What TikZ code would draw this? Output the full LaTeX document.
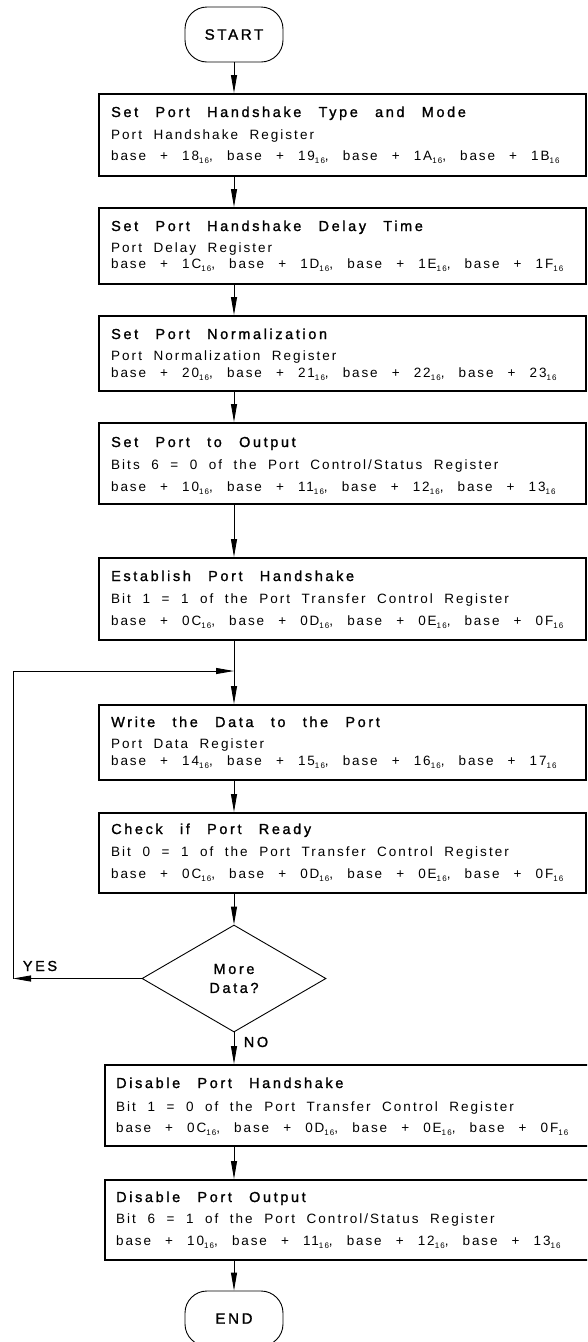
\documentclass[tikz,border=0pt]{standalone}
\usepackage{fontspec}
\setmainfont{Liberation Sans}[LetterSpace=15,WordSpace=2]
\newfontfamily\titlefont{Liberation Sans}[LetterSpace=18,WordSpace=2.6,FakeBold=1.3]
\newfontfamily\addrfont{Liberation Sans}[LetterSpace=14,WordSpace=2.5]
\usetikzlibrary{shapes.geometric,arrows.meta}
\newcommand\hsub[1]{\raisebox{-0.45ex}{\fontsize{8}{9}\selectfont #1}}
\tikzset{
  every picture/.style={x=1pt,y=-1pt},
  flowbox/.style={draw,line width=1.5pt,minimum width=487pt,inner sep=0pt,anchor=north west},
  lowbox/.style={flowbox,minimum width=500pt},
  txt/.style={anchor=base west,inner sep=0pt,font=\fontsize{13.5}{15}\selectfont},
  ttl/.style={txt,font=\fontsize{14.5}{16}\selectfont\titlefont},
  addr/.style={txt,font=\fontsize{13.5}{15}\selectfont\addrfont},
  term/.style={draw,line width=0.9pt,rounded corners=22pt,minimum width=98pt,minimum height=55pt,inner sep=0pt,font=\fontsize{15}{17}\selectfont\titlefont},
  dec/.style={draw,diamond,line width=0.9pt,minimum width=184pt,minimum height=107pt,inner sep=0pt,align=center,font=\fontsize{14.5}{19}\selectfont\titlefont},
  lbl/.style={inner sep=0pt,font=\fontsize{14.5}{16}\selectfont\titlefont},
  conn/.style={line width=0.9pt,-{Triangle[length=18pt,width=6pt]}}
}
\begin{document}
\begin{tikzpicture}
\useasboundingbox (0,0) rectangle (587,1342);
\clip (0,0) rectangle (587,1342);

\node[term] (start) at (234,34.5) {START};

% Box 1
\node[flowbox,minimum height=82pt] (b1) at (98,93) {};
\node[ttl] (b1a) at (111,117) {Set Port Handshake Type and Mode};
\node[txt] (b1b) at (111,139) {Port Handshake Register};
\node[addr] (b1c) at (111,160) {base + 18\hsub{16}, base + 19\hsub{16}, base + 1A\hsub{16}, base + 1B\hsub{16}};

% Box 2
\node[flowbox,minimum height=76pt] (b2) at (98,207) {};
\node[ttl] (b2a) at (111,231) {Set Port Handshake Delay Time};
\node[txt] (b2b) at (111,252) {Port Delay Register};
\node[addr] (b2c) at (111,268) {base + 1C\hsub{16}, base + 1D\hsub{16}, base + 1E\hsub{16}, base + 1F\hsub{16}};

% Box 3
\node[flowbox,minimum height=75pt] (b3) at (98,315) {};
\node[ttl] (b3a) at (111,339) {Set Port Normalization};
\node[txt] (b3b) at (111,360) {Port Normalization Register};
\node[addr] (b3c) at (111,377) {base + 20\hsub{16}, base + 21\hsub{16}, base + 22\hsub{16}, base + 23\hsub{16}};

% Box 4
\node[flowbox,minimum height=81pt] (b4) at (98,422) {};
\node[ttl] (b4a) at (111,447) {Set Port to Output};
\node[txt] (b4b) at (111,469) {Bits 6 = 0 of the Port Control/Status Register};
\node[addr] (b4c) at (111,491) {base + 10\hsub{16}, base + 11\hsub{16}, base + 12\hsub{16}, base + 13\hsub{16}};

% Box 5
\node[flowbox,minimum height=82pt] (b5) at (98,557) {};
\node[ttl] (b5a) at (111,581) {Establish Port Handshake};
\node[txt] (b5b) at (111,603) {Bit 1 = 1 of the Port Transfer Control Register};
\node[addr] (b5c) at (111,625) {base + 0C\hsub{16}, base + 0D\hsub{16}, base + 0E\hsub{16}, base + 0F\hsub{16}};

\coordinate (join) at (234,671);

% Box 6
\node[flowbox,minimum height=75pt] (b6) at (98,704) {};
\node[ttl] (b6a) at (111,727) {Write the Data to the Port};
\node[txt] (b6b) at (111,748) {Port Data Register};
\node[addr] (b6c) at (111,765) {base + 14\hsub{16}, base + 15\hsub{16}, base + 16\hsub{16}, base + 17\hsub{16}};

% Box 7
\node[flowbox,minimum height=80pt] (b7) at (98,812) {};
\node[ttl] (b7a) at (111,834) {Check if Port Ready};
\node[txt] (b7b) at (111,856) {Bit 0 = 1 of the Port Transfer Control Register};
\node[addr] (b7c) at (111,878) {base + 0C\hsub{16}, base + 0D\hsub{16}, base + 0E\hsub{16}, base + 0F\hsub{16}};

% Decision
\node[dec] (dec) at (234,978.5) {More\\Data?};
\coordinate (corner) at (13,978.5);
\node[lbl] (yes) at (40,966) {YES};
\node[lbl] (no) at (256,1042) {NO};

% Box 8
\node[lowbox,minimum height=81pt] (b8) at (104,1064) {};
\node[ttl] (b8a) at (116,1088) {Disable Port Handshake};
\node[txt] (b8b) at (116,1111) {Bit 1 = 0 of the Port Transfer Control Register};
\node[addr] (b8c) at (116,1132) {base + 0C\hsub{16}, base + 0D\hsub{16}, base + 0E\hsub{16}, base + 0F\hsub{16}};

% Box 9
\node[lowbox,minimum height=80pt] (b9) at (104,1179) {};
\node[ttl] (b9a) at (116,1202) {Disable Port Output};
\node[txt] (b9b) at (116,1223) {Bit 6 = 1 of the Port Control/Status Register};
\node[addr] (b9c) at (116,1245) {base + 10\hsub{16}, base + 11\hsub{16}, base + 12\hsub{16}, base + 13\hsub{16}};

\node[term] (end) at (234,1318.5) {END};

% Connectors
\draw[conn] (start.south) -- (start.south |- b1.north);
\draw[conn] (start.south |- b1.south) -- (start.south |- b2.north);
\draw[conn] (start.south |- b2.south) -- (start.south |- b3.north);
\draw[conn] (start.south |- b3.south) -- (start.south |- b4.north);
\draw[conn] (start.south |- b4.south) -- (start.south |- b5.north);
\draw[conn] (start.south |- b5.south) -- (start.south |- b6.north);
\draw[conn] (start.south |- b6.south) -- (start.south |- b7.north);
\draw[conn] (start.south |- b7.south) -- (dec.north);
\draw[conn] (dec.south) -- (dec.south |- b8.north);
\draw[conn] (dec.south |- b8.south) -- (dec.south |- b9.north);
\draw[conn] (dec.south |- b9.south) -- (end.north);
\draw[conn] (dec.west) -- (corner);
\draw[conn] (corner) |- (join);
\end{tikzpicture}
\end{document}
